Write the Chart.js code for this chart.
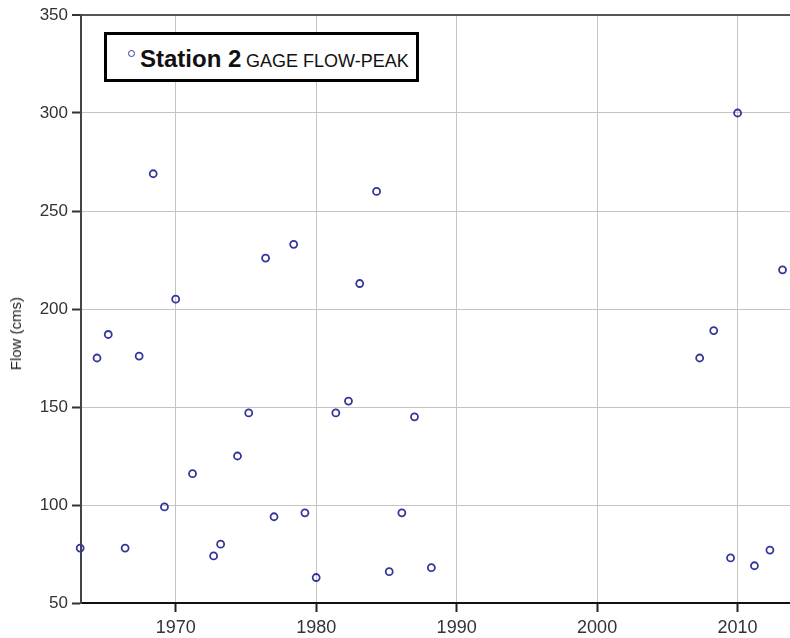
<!DOCTYPE html>
<html lang="en">
<head>
  <meta charset="UTF-8">
  <title>Station 2 GAGE FLOW-PEAK</title>
  <script src="https://cdn.jsdelivr.net/npm/chart.js"></script>
  <style>
    html, body { margin: 0; padding: 0; background: #fff; }
    #wrap { position: relative; width: 790px; height: 638px; font-family: "Liberation Sans", Arial, sans-serif; }
    #legend { position: absolute; left: 104px; top: 32px; width: 309px; height: 44px; border: 3px solid #000; background: #fff; }
    #legend .dot { position: absolute; left: 21px; top: 15px; width: 5px; height: 5px; border: 1.5px solid #35359b; border-radius: 50%; }
    #legend .name { position: absolute; left: 33px; top: 12px; font-size: 24px; line-height: 24px; font-weight: bold; color: #111; white-space: nowrap; }
    #legend .desc { position: absolute; left: 139px; top: 17px; font-size: 18px; line-height: 18px; color: #111; white-space: nowrap; }
    #ytitle { position: absolute; left: 7px; top: 297px; writing-mode: vertical-rl; transform: rotate(180deg); font-size: 15px; line-height: 17px; color: #222; white-space: nowrap; }
  </style>
</head>
<body>
  <div id="wrap">
    <canvas id="chart" width="790" height="638"></canvas>
    <div id="legend"><span class="dot"></span><span class="name">Station 2</span><span class="desc">GAGE FLOW-PEAK</span></div>
    <div id="ytitle">Flow (cms)</div>
  </div>

  <script>
    // peak flows
    const years = [1963.2, 1964.4, 1965.2, 1966.4, 1967.4, 1968.4, 1969.2, 1970.0, 1971.2, 1972.7, 1973.2,
                   1974.4, 1975.2, 1976.4, 1977.0, 1978.4, 1979.2, 1980.0, 1981.4, 1982.3, 1983.1, 1984.3,
                   1985.2, 1986.1, 1987.0, 1988.2, 2007.3, 2008.3, 2009.5, 2010.0, 2011.2, 2012.3, 2013.2];
    const flows = [78, 175, 187, 78, 176, 269, 99, 205, 116, 74, 80,
                   125, 147, 226, 94, 233, 96, 63, 147, 153, 213, 260,
                   66, 96, 145, 68, 175, 189, 73, 300, 69, 77, 220];
    const yTicks = [50, 100, 150, 200, 250, 300, 350];
    const xTicks = [1970, 1980, 1990, 2000, 2010];

    const points = years.map((y, i) => ({ x: y, y: flows[i] }));

    new Chart(document.getElementById('chart'), {
      type: 'scatter',
      data: {
        datasets: [{
          label: 'Station 2 GAGE FLOW-PEAK',
          data: points,
          pointRadius: 3.5,
          pointHoverRadius: 3.5,
          pointBorderWidth: 1.8,
          borderColor: '#35359b',
          backgroundColor: 'rgba(255,255,255,0)',
          clip: false
        }]
      },
      options: {
        responsive: false,
        animation: false,
        layout: { autoPadding: false, padding: { top: 15, left: 0, right: 0, bottom: 0 } },
        plugins: { legend: { display: false }, tooltip: { enabled: false } },
        scales: {
          x: {
            type: 'linear',
            min: 1963.26,
            max: 2013.73,
            afterBuildTicks: s => { s.ticks = xTicks.map(v => ({ value: v })); },
            afterFit: s => { s.height = 35; s.paddingLeft = 0; s.paddingRight = 0; },
            ticks: { color: '#333', font: { family: 'Liberation Sans', size: 18 }, padding: 5, maxRotation: 0, callback: v => String(v) },
            grid: { color: '#c4c4c4', lineWidth: 1, tickLength: 9, tickColor: '#222', tickWidth: 2 },
            border: { color: '#111', width: 2 }
          },
          y: {
            min: 50,
            max: 350,
            afterBuildTicks: s => { s.ticks = yTicks.map(v => ({ value: v })); },
            afterFit: s => { s.width = 81; s.paddingTop = 0; s.paddingBottom = 0; },
            ticks: { color: '#333', font: { family: 'Liberation Sans', size: 17 }, padding: 4 },
            grid: {
              color: c => (c.tick && c.tick.value === 350) ? '#555' : '#c4c4c4',
              lineWidth: c => (c.tick && c.tick.value === 350) ? 2 : 1,
              tickLength: 9, tickColor: '#333', tickWidth: 2
            },
            border: { color: '#444', width: 2 }
          }
        }
      }
    });
  </script>
</body>
</html>
